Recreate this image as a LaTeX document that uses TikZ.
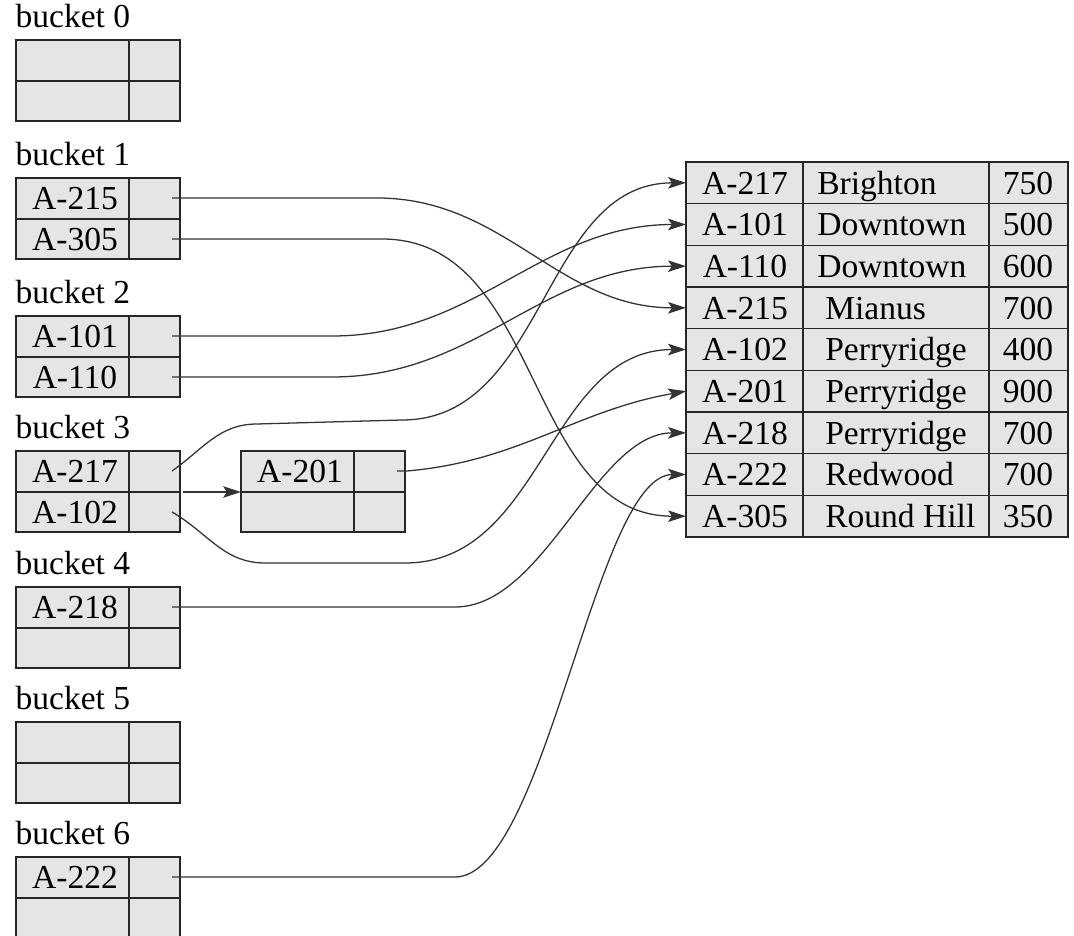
\documentclass[tikz,border=0pt]{standalone}
\usepackage{fontspec}
\setmainfont{Liberation Serif}
\usetikzlibrary{arrows.meta}

\tikzset{
 cell/.style={draw=black!85,fill=black!10,line width=0.5pt},
 rule/.style={draw=black!85,line width=0.5pt},
 wire/.style={draw=black!80,line width=0.4pt},
 link/.style={wire,-{Stealth[length=5.6pt,width=3.6pt,inset=1.2pt]}},
 every node/.style={font=\fontsize{10.5}{12}\selectfont,text height=7pt,text depth=0pt}
}

\begin{document}
\begin{tikzpicture}[x=0.011cm,y=-0.011cm]

\useasboundingbox (0,0) rectangle (1074,936);

\newcommand{\bucketbox}[5] % [name][x][y][key1][key2]
{
 \filldraw[cell] (#2,#3) rectangle ++(164,81);
 \draw[rule] (#2,#3+41) -- ++(164,0) (#2+113,#3) -- ++(0,81);
 \node (#1a) at (#2+59,#3+20) {#4};
 \node (#1b) at (#2+59,#3+61) {#5};
 \coordinate (#1p) at (#2+156,#3+20);
 \coordinate (#1q) at (#2+156,#3+61);
 \coordinate (#1n) at (#2+167,#3+41);
 \coordinate (#1w) at (#2,#3+41);
}

% buckets
\foreach \k/\y/\ka/\kb in {0/40/{}/{}, 1/178/A-215/A-305, 2/316/A-101/A-110,
  3/451/A-217/A-102, 4/587/A-218/{}, 5/722/{}/{}, 6/857/A-222/{}}
{
 \node[anchor=base west,inner sep=0pt] (l\k) at (15,\y-12) {bucket \k};
 \bucketbox{b\k}{16}{\y}{\ka}{\kb}
}

% overflow bucket
\bucketbox{o3}{241}{451}{A-201}{}

% account file
\def\tx{686} \def\ty{162} \def\rh{41.67}
\fill[black!10] (\tx,\ty) rectangle ++(382,9*\rh);
\foreach \i/\acc/\bn/\bx/\bal in {1/A-217/Brighton/806/750,
  2/A-101/Downtown/806/500, 3/A-110/Downtown/806/600,
  4/A-215/Mianus/814/700, 5/A-102/Perryridge/814/400,
  6/A-201/Perryridge/814/900, 7/A-218/Perryridge/814/700,
  8/A-222/Redwood/814/700, 9/A-305/Round Hill/814/350}
{
 \draw[rule] (\tx,\ty+\i*\rh-\rh) rectangle ++(382,\rh);
 \node (a\i) at (745,\ty+\i*\rh-\rh/2) {\acc};
 \node[anchor=west] (n\i) at (\bx,\ty+\i*\rh-\rh/2) {\bn};
 \node (v\i) at (1028,\ty+\i*\rh-\rh/2) {\bal};
 \coordinate (r\i) at (\tx,\ty+\i*\rh-\rh/2);
}
\draw[rule] (803,\ty) -- (803,\ty+9*\rh) (989,\ty) -- (989,\ty+9*\rh);

% pointers
\draw[link] (b3n) -- (o3w);

\draw[link] (b1p) -- ++(205,0) to[out=0,in=180] (r4);
\draw[link] (b1q) -- ++(210,0) to[out=0,in=180] (r9);
\draw[link] (b2p) -- ++(160,0) to[out=0,in=180] (r2);
\draw[link] (b2q) -- ++(160,0) to[out=0,in=180] (r3);
\draw[link] (b3p) to[out=35,in=180] ++(85,-47) -- ++(145,-4)
  to[out=0,in=180] (r1);
\draw[link] (b3q) to[out=-30,in=180] ++(93,51) -- ++(140,0)
  to[out=0,in=180] (r5);
\draw[link] (o3p) -- ++(10,0) to[out=5,in=190] (r6);
\draw[link] (b4p) -- ++(283,0) to[out=0,in=180,looseness=0.8] (r7);
\draw[link] (b6p) -- ++(283,0) to[out=0,in=180,looseness=0.5] (r8);

\end{tikzpicture}
\end{document}
